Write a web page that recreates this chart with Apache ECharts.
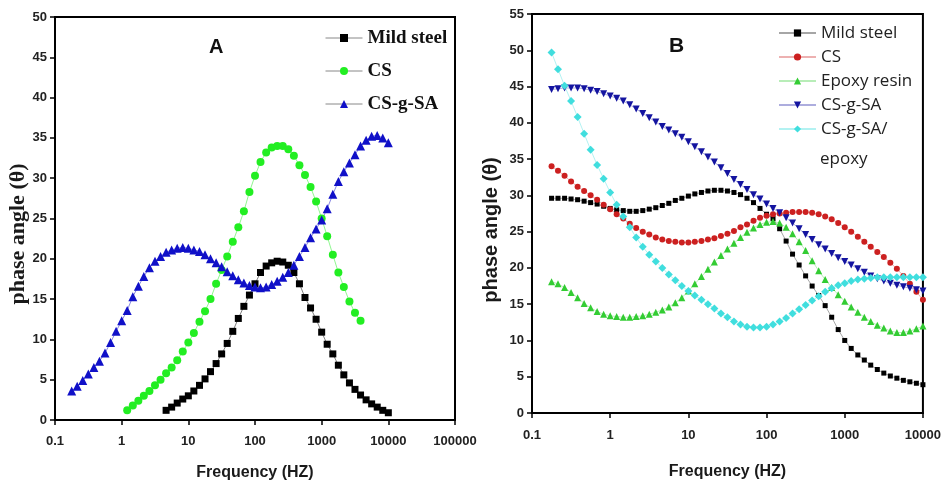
<!DOCTYPE html>
<html>
<head>
<meta charset="utf-8">
<script src="https://cdn.jsdelivr.net/npm/echarts@6.0.0/dist/echarts.min.js"></script>
<style>html,body{margin:0;padding:0;background:#fff;}#c{width:944px;height:489px;}</style>
</head>
<body>
<div id="c"></div>
<script>
// Frequencies (Hz), 12 points per decade, 0.1 .. 10000
const F = [0.1, 0.121, 0.147, 0.178, 0.215, 0.261, 0.316, 0.383, 0.464, 0.562, 0.681, 0.825,
  1, 1.21, 1.47, 1.78, 2.15, 2.61, 3.16, 3.83, 4.64, 5.62, 6.81, 8.25,
  10, 12.1, 14.7, 17.8, 21.5, 26.1, 31.6, 38.3, 46.4, 56.2, 68.1, 82.5,
  100, 121, 147, 178, 215, 261, 316, 383, 464, 562, 681, 825,
  1000, 1210, 1470, 1780, 2150, 2610, 3160, 3830, 4640, 5620, 6810, 8250, 10000];

const xTicksA = [0.1, 1, 10, 100, 1000, 10000, 100000];
const xTicksB = [0.1, 1, 10, 100, 1000, 10000];

// Panel A
const freqMildA = F.slice(20, 61);
const mildA = [1.2, 1.6, 2.1, 2.6, 3.0, 3.6, 4.3, 5.1, 6.0, 7.0, 8.2, 9.5, 11.0, 12.6, 14.1, 15.5,
  16.9, 18.3, 19.1, 19.5, 19.7, 19.6, 19.2, 18.3, 16.9, 15.2, 13.9, 12.5, 10.9, 9.4, 8.2, 6.8,
  5.6, 4.6, 3.8, 3.1, 2.5, 2.0, 1.6, 1.2, 0.9];
const freqCsA = F.slice(13, 56);
const csA = [1.2, 1.8, 2.4, 3.0, 3.6, 4.3, 5.0, 5.8, 6.5, 7.4, 8.5, 9.6, 10.8, 12.2, 13.5, 15.0,
  16.9, 18.6, 20.3, 22.1, 23.9, 25.9, 28.3, 30.3, 32.0, 33.2, 33.8, 34.0, 34.0, 33.6, 32.8, 31.6,
  30.4, 28.9, 27.1, 25.0, 22.8, 20.5, 18.3, 16.5, 14.7, 13.3, 12.3];
const freqSagA = F.slice(3, 61);
const sagA = [3.6, 4.2, 4.9, 5.7, 6.5, 7.3, 8.3, 9.6, 11.0, 12.3, 13.6, 15.3, 16.6, 17.8, 18.9, 19.7,
  20.3, 20.8, 21.1, 21.3, 21.4, 21.3, 21.1, 20.9, 20.5, 20.0, 19.5, 19.0, 18.4, 17.9, 17.4, 17.0,
  16.7, 16.5, 16.4, 16.5, 16.8, 17.2, 17.7, 18.3, 19.2, 20.3, 21.4, 22.6, 23.7, 24.8, 26.2, 28.0,
  29.6, 30.8, 31.9, 32.9, 34.0, 34.7, 35.2, 35.3, 35.0, 34.4];

// Panel B (all series 0.178 .. 10000 Hz)
const freqB = F.slice(3, 61);
const mildB = [29.6, 29.6, 29.6, 29.5, 29.4, 29.2, 29.0, 28.8, 28.5,
  28.2, 28.0, 27.9, 27.8, 27.8, 27.9, 28.1, 28.3, 28.6, 28.9, 29.3, 29.6,
  29.9, 30.2, 30.4, 30.6, 30.7, 30.7, 30.6, 30.4, 30.1, 29.6, 29.0, 28.2,
  27.4, 26.8, 25.4, 23.7, 21.9, 20.4, 18.9, 17.5, 16.2, 14.8, 13.2, 11.5,
  10.0, 8.9, 8.0, 7.3, 6.6, 6.0, 5.5, 5.1, 4.8, 4.5, 4.3, 4.1, 3.9];
const csB = [34.0, 33.4, 32.7, 31.9, 31.2, 30.6, 30.0, 29.4, 28.7,
  28.1, 27.4, 26.8, 26.1, 25.5, 25.0, 24.6, 24.2, 23.9, 23.7, 23.6, 23.5,
  23.5, 23.6, 23.7, 23.9, 24.1, 24.4, 24.7, 25.1, 25.6, 26.0, 26.5, 26.9,
  27.2, 27.4, 27.5, 27.6, 27.7, 27.7, 27.7, 27.6, 27.4, 27.1, 26.7, 26.2,
  25.6, 25.0, 24.3, 23.6, 22.9, 22.2, 21.5, 20.7, 19.9, 18.9, 17.8, 16.7, 15.6];
const epoxyB = [18.1, 17.8, 17.3, 16.6, 15.9, 15.1, 14.5, 14.0, 13.6,
  13.4, 13.3, 13.2, 13.2, 13.3, 13.4, 13.6, 13.9, 14.2, 14.6, 15.2, 15.9,
  16.8, 17.8, 18.8, 19.8, 20.8, 21.7, 22.6, 23.4, 24.2, 24.9, 25.5, 26.0,
  26.3, 26.4, 26.2, 25.6, 24.7, 23.6, 22.4, 21.0, 19.6, 18.4, 17.3, 16.3,
  15.4, 14.6, 13.9, 13.2, 12.6, 12.1, 11.7, 11.3, 11.1, 11.1, 11.3, 11.6, 12.0];
const sagB = [44.6, 44.7, 44.8, 44.8, 44.8, 44.7, 44.5, 44.3, 44.0,
  43.7, 43.4, 43.0, 42.5, 41.9, 41.3, 40.7, 40.1, 39.5, 39.0, 38.5, 38.0,
  37.4, 36.7, 36.0, 35.3, 34.6, 33.8, 33.0, 32.2, 31.5, 30.8, 30.1, 29.5,
  28.8, 28.2, 27.6, 26.9, 26.2, 25.4, 24.6, 23.9, 23.2, 22.6, 22.0, 21.4,
  20.9, 20.4, 19.9, 19.4, 18.9, 18.5, 18.2, 17.9, 17.6, 17.4, 17.2, 17.0, 16.8];
const sagEpoxyB = [49.7, 47.4, 45.1, 43.0, 40.8, 38.5, 36.3, 34.2, 32.3,
  30.4, 28.7, 27.1, 25.6, 24.2, 22.9, 21.8, 20.9, 20.0, 19.1, 18.3, 17.5,
  16.8, 16.2, 15.6, 15.0, 14.4, 13.7, 13.2, 12.6, 12.2, 11.9, 11.8, 11.8,
  11.9, 12.2, 12.6, 13.1, 13.7, 14.3, 14.9, 15.5, 16.1, 16.7, 17.2, 17.6,
  17.9, 18.2, 18.4, 18.5, 18.6, 18.7, 18.7, 18.7, 18.7, 18.7, 18.7, 18.7, 18.7];

function pairs(fs, vs) { return vs.map((v, k) => [fs[k], v]); }

const SANS = "'Liberation Sans', Arial, sans-serif";
const SERIF = "'Liberation Serif', 'Times New Roman', serif";
const OPEN = "'Open Sans', 'Liberation Sans', sans-serif";

function fmt(v) { return String(+(+v).toPrecision(6)); }

function xAxisCfg(gi, maxV, nameGap, labelMargin) {
  return {
    type: 'log', logBase: 10, gridIndex: gi, min: 0.1, max: maxV,
    name: 'Frequency (HZ)', nameLocation: 'middle', nameGap: nameGap,
    nameTextStyle: { fontFamily: SANS, fontWeight: 'bold', fontSize: 16, color: '#1a1a1a' },
    axisLine: { show: true, onZero: false, lineStyle: { color: '#000', width: 2 } },
    axisTick: { show: true, inside: false, length: 5, lineStyle: { color: '#000', width: 1.5 } },
    minorTick: { show: false },
    axisLabel: { fontFamily: SANS, fontWeight: 'bold', fontSize: 13, color: '#222', margin: labelMargin, formatter: fmt },
    splitLine: { show: false }
  };
}
function yAxisCfg(gi, maxV) {
  return {
    type: 'value', gridIndex: gi, min: 0, max: maxV, interval: 5,
    axisLine: { show: true, lineStyle: { color: '#000', width: 2 } },
    axisTick: { show: true, inside: false, length: 5, lineStyle: { color: '#000', width: 1.5 } },
    axisLabel: { fontFamily: SANS, fontWeight: 'bold', fontSize: 13, color: '#222', margin: 8 },
    splitLine: { show: false }
  };
}

function ser(name, xi, data, symbol, size, color, lineColor, rotate) {
  return {
    name: name, type: 'line', xAxisIndex: xi, yAxisIndex: xi, data: data,
    symbol: symbol, symbolSize: size, symbolRotate: rotate || 0, showSymbol: true,
    itemStyle: { color: color }, lineStyle: { color: lineColor, width: 1 },
    animation: false, z: 3
  };
}

const chart = echarts.init(document.getElementById('c'), null, { renderer: 'canvas' });
chart.setOption({
  backgroundColor: '#fff',
  animation: false,
  grid: [
    { left: 55, top: 17, width: 400, height: 403, show: true, borderColor: '#000', borderWidth: 2, backgroundColor: 'transparent' },
    { left: 532, top: 14, width: 391, height: 399, show: true, borderColor: '#000', borderWidth: 2, backgroundColor: 'transparent' }
  ],
  xAxis: [xAxisCfg(0, 100000, 45, 15), xAxisCfg(1, 10000, 51, 16)],
  yAxis: [yAxisCfg(0, 50), yAxisCfg(1, 55)],
  legend: [
    {
      orient: 'vertical', left: 325, top: 28, padding: 0, itemWidth: 37, itemHeight: 10, itemGap: 13,
      data: ['Mild steel', 'CS', 'CS-g-SA'],
      lineStyle: { color: '#888', width: 1 },
      textStyle: { fontFamily: SERIF, fontWeight: 'bold', fontSize: 19, color: '#111', lineHeight: 20 },
      selectedMode: false
    },
    {
      orient: 'vertical', left: 778, top: 24, padding: 0, itemWidth: 37, itemHeight: 9, itemGap: 6,
      data: ['Mild steel ', 'CS ', 'Epoxy resin', 'CS-g-SA ', 'CS-g-SA/'],
      textStyle: { fontFamily: OPEN, fontSize: 17, color: '#222', lineHeight: 18 },
      selectedMode: false
    }
  ],
  graphic: [
    { type: 'text', left: 209, top: 37, style: { text: 'A', font: "bold 20px 'Liberation Sans', Arial", fill: '#111' } },
    { type: 'text', left: 669, top: 36, style: { text: 'B', font: "bold 21px 'Liberation Sans', Arial", fill: '#111' } },
    { type: 'text', left: 820, top: 151, style: { text: 'epoxy', font: "17px 'Open Sans', 'Liberation Sans'", fill: '#222' } },
    { type: 'text', x: 18, y: 234, rotation: Math.PI / 2,
      style: { text: 'phase angle (θ)', font: "bold 22px 'Liberation Serif', 'Times New Roman', serif", fill: '#1a1a1a', align: 'center', verticalAlign: 'middle' } },
    { type: 'text', x: 491, y: 230, rotation: Math.PI / 2,
      style: { text: 'phase angle (θ)', font: "bold 20px 'Liberation Sans', Arial, sans-serif", fill: '#1a1a1a', align: 'center', verticalAlign: 'middle' } }
  ],
  series: [
    ser('Mild steel', 0, pairs(freqMildA, mildA), 'rect', 7, '#000', 'rgba(0,0,0,0.5)'),
    ser('CS', 0, pairs(freqCsA, csA), 'circle', 8, '#22ee22', 'rgba(34,238,34,0.5)'),
    ser('CS-g-SA', 0, pairs(freqSagA, sagA), 'triangle', 9, '#1010c8', 'rgba(16,16,200,0.5)'),
    ser('Mild steel ', 1, pairs(freqB, mildB), 'rect', 5, '#000', 'rgba(0,0,0,0.35)'),
    ser('CS ', 1, pairs(freqB, csB), 'circle', 6, '#cc2020', 'rgba(204,32,32,0.35)'),
    ser('Epoxy resin', 1, pairs(freqB, epoxyB), 'triangle', 7, '#33cc33', 'rgba(51,204,51,0.35)'),
    ser('CS-g-SA ', 1, pairs(freqB, sagB), 'triangle', 7, '#1414a0', 'rgba(20,20,160,0.35)', 180),
    ser('CS-g-SA/', 1, pairs(freqB, sagEpoxyB), 'diamond', 8, '#40dede', 'rgba(64,222,222,0.4)')
  ]
});
</script>
</body>
</html>
